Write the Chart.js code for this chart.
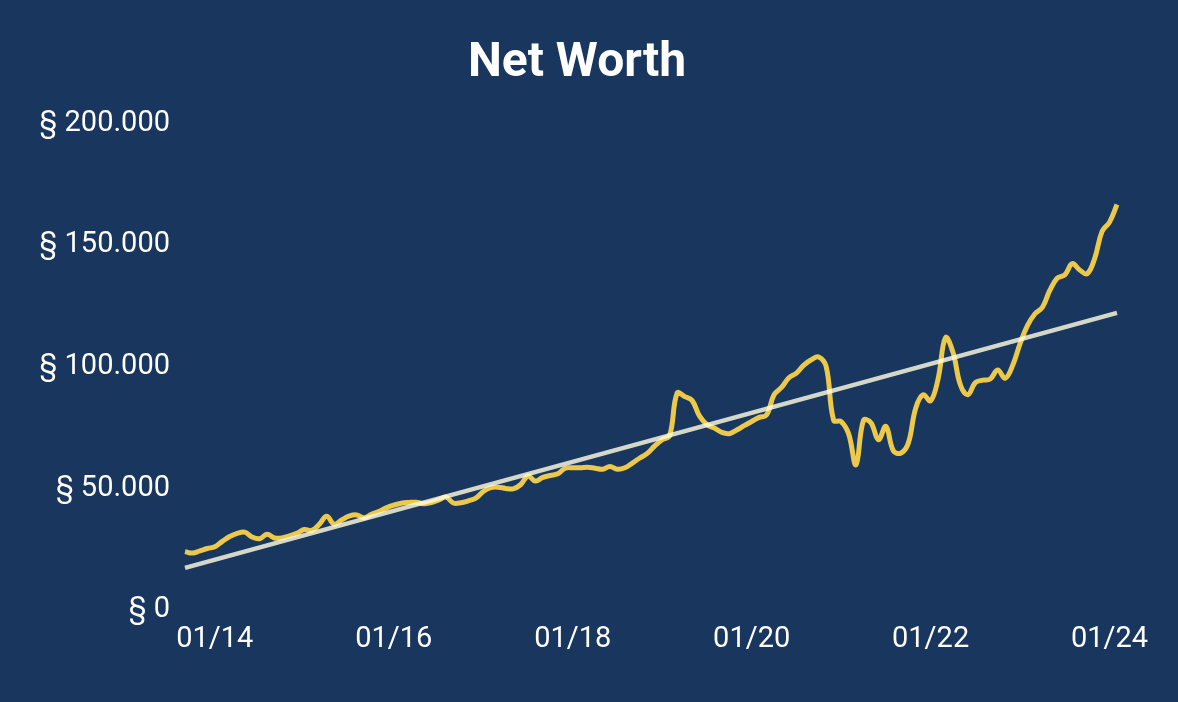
<!DOCTYPE html>
<html>
<head>
<meta charset="utf-8">
<script src="https://cdn.jsdelivr.net/npm/chart.js@4"></script>
<style>
  html, body { margin: 0; padding: 0; background: #19365e; }
  #wrap { width: 1178px; height: 702px; }
</style>
</head>
<body>
<div id="wrap"><canvas id="netWorthChart" width="1178" height="702"></canvas></div>
<script>
// monthly values, 09/13 .. 02/24
const startYear = 2013;
const startMonth = 9;

const netWorth = [
  24000, 23400, 24300, 25300,                                                  // 2013
  26000, 28200, 30200, 31500, 32000, 30000, 29300, 31100, 29600, 29600, 30500, 31500, // 2014
  33100, 32700, 35200, 38500, 35300, 37000, 38600, 39100, 37900, 39400, 40500, 42000, // 2015
  43100, 43900, 44200, 44300, 43700, 44200, 45200, 46400, 44000, 44100, 44900, 46000, // 2016
  48700, 50300, 50500, 50000, 49800, 51500, 55100, 53000, 54500, 55300, 56000, 58300, // 2017
  58500, 58500, 58700, 58300, 57900, 59000, 57900, 58500, 60400, 62500, 64400, 67500, // 2018
  70000, 71800, 89200, 87800, 86200, 79800, 76200, 74800, 73000, 72500, 74000, 75800, // 2019
  77500, 79200, 80200, 88500, 91500, 95500, 97400, 100700, 102900, 104000, 100000, 78000, // 2020
  77500, 72500, 59700, 78000, 77000, 70000, 75500, 65500, 64500, 68500, 83000, 88500, // 2021
  86000, 95000, 112000, 106000, 92500, 88500, 93500, 94500, 95000, 98700, 95300, 100500, // 2022
  109500, 117000, 121800, 124500, 131500, 136500, 137800, 142400, 139800, 138300, 144500, 155700, // 2023
  159500, 166700                                                               // 2024
];

const trendStart = 17300;
const trendEnd = 122200;

const yTicks = [0, 50000, 100000, 150000, 200000];

const labels = [];
for (let i = 0; i < netWorth.length; i++) {
  const m = (startMonth - 1 + i) % 12 + 1;
  const y = startYear + Math.floor((startMonth - 1 + i) / 12);
  labels.push(String(m).padStart(2, '0') + '/' + String(y % 100).padStart(2, '0'));
}

const fmt = v => '§ ' + String(v).replace(/\B(?=(\d{3})+(?!\d))/g, '.');

const ctx = document.getElementById('netWorthChart').getContext('2d');
new Chart(ctx, {
  type: 'line',
  data: {
    labels: labels,
    datasets: [
      {
        label: 'Trend',
        data: [
          { x: labels[0], y: trendStart },
          { x: labels[labels.length - 1], y: trendEnd }
        ],
        borderColor: 'rgba(255, 252, 225, 0.82)',
        borderWidth: 4.5,
        pointRadius: 0,
        tension: 0,
        order: 0
      },
      {
        label: 'Net Worth',
        data: netWorth,
        borderColor: '#ecc94b',
        borderWidth: 5,
        pointRadius: 0,
        tension: 0.4,
        order: 1
      }
    ]
  },
  options: {
    responsive: false,
    animation: false,
    layout: { padding: { left: 0, right: 24, top: 0, bottom: 0 } },
    plugins: {
      legend: { display: false },
      tooltip: { enabled: false },
      title: {
        display: true,
        text: 'Net Worth',
        color: '#ffffff',
        font: { family: 'Roboto', size: 48, weight: 'bold', lineHeight: 1.2 },
        padding: { top: 35, bottom: 31 }
      }
    },
    scales: {
      x: {
        grid: { display: false, drawTicks: false },
        border: { display: false },
        ticks: {
          autoSkip: false,
          maxRotation: 0,
          padding: 12,
          color: '#ffffff',
          font: { family: 'Roboto', size: 29 },
          callback: function (value, index) {
            const lab = labels[index];
            const mm = lab.slice(0, 2);
            const yy = parseInt(lab.slice(3), 10);
            return (mm === '01' && yy % 2 === 0) ? lab : null;
          }
        },
        afterFit: s => { s.height = 92; }
      },
      y: {
        min: 0,
        max: 200000,
        grid: { display: false, drawTicks: false },
        border: { display: false },
        afterBuildTicks: s => { s.ticks = yTicks.map(v => ({ value: v })); },
        ticks: {
          padding: 15,
          color: '#ffffff',
          font: { family: 'Roboto', size: 29 },
          callback: v => fmt(v)
        },
        afterFit: s => { s.width = 185; }
      },
      // empty right-hand axis, only keeps room on the right
      yRight: {
        position: 'right',
        min: 0,
        max: 200000,
        grid: { display: false, drawTicks: false },
        border: { display: false },
        ticks: { display: false },
        afterFit: s => { s.width = 37; }
      }
    }
  }
});
</script>
</body>
</html>
